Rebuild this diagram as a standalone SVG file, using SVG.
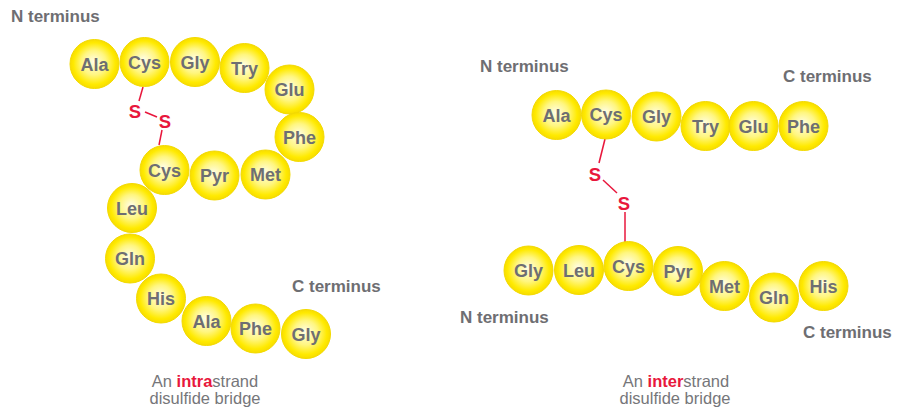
<svg xmlns="http://www.w3.org/2000/svg" width="899" height="410" viewBox="0 0 899 410">
<defs>
<radialGradient id="yb" cx="50%" cy="50%" r="50%" fx="48%" fy="45%">
<stop offset="0" stop-color="#fffde8"/>
<stop offset="0.5" stop-color="#fff680"/>
<stop offset="0.85" stop-color="#ffea00"/>
<stop offset="1" stop-color="#f7dc00"/>
</radialGradient>
<style>
.aa circle{fill:url(#yb);stroke:#f3da00;stroke-width:1}
.aa text{font-family:"Liberation Sans",Arial,sans-serif;font-weight:bold;font-size:18px;fill:#6e6e72;text-anchor:middle}
.term{font-family:"Liberation Sans",Arial,sans-serif;font-weight:bold;font-size:17px;fill:#6e6e72}
.s text{font-family:"Liberation Sans",Arial,sans-serif;font-weight:bold;font-size:18.5px;fill:#e8173c;text-anchor:middle}
.bond line{stroke:#e8173c;stroke-width:1.5}
.cap{font-family:"Liberation Sans",Arial,sans-serif;font-size:16.5px;fill:#76767a;text-anchor:middle}
.cap .hl{fill:#e8173c;font-weight:bold}
</style>
</defs>
<rect width="899" height="410" fill="#ffffff"/>
<g id="connectors" class="bond">
<line x1="143" y1="87" x2="139" y2="101"/>
<line x1="145" y1="112" x2="157" y2="117"/>
<line x1="162" y1="130" x2="159" y2="145"/>
<line x1="605" y1="139" x2="599" y2="163"/>
<line x1="603" y1="180" x2="617" y2="193"/>
<line x1="625" y1="212" x2="625" y2="242"/>
</g>
<g id="left-strand">
<g id="L-Ala1" class="aa"><circle cx="94.5" cy="64" r="24.5"/><text x="94.5" y="70.5">Ala</text></g>
<g id="L-Cys1" class="aa"><circle cx="144.5" cy="62" r="24.5"/><text x="144.5" y="68.5">Cys</text></g>
<g id="L-Gly1" class="aa"><circle cx="195" cy="62" r="24.5"/><text x="195" y="68.5">Gly</text></g>
<g id="L-Try" class="aa"><circle cx="244.5" cy="68" r="24.5"/><text x="244.5" y="74.5">Try</text></g>
<g id="L-Glu" class="aa"><circle cx="289.5" cy="89.5" r="24.5"/><text x="289.5" y="96">Glu</text></g>
<g id="L-Phe1" class="aa"><circle cx="299.5" cy="137" r="24.5"/><text x="299.5" y="143.5">Phe</text></g>
<g id="L-Met" class="aa"><circle cx="265.5" cy="174.5" r="24.5"/><text x="265.5" y="181">Met</text></g>
<g id="L-Pyr" class="aa"><circle cx="214.5" cy="175.5" r="24.5"/><text x="214.5" y="182">Pyr</text></g>
<g id="L-Cys2" class="aa"><circle cx="164.5" cy="170" r="24.5"/><text x="164.5" y="176.5">Cys</text></g>
<g id="L-Leu" class="aa"><circle cx="132" cy="208" r="24.5"/><text x="132" y="214.5">Leu</text></g>
<g id="L-Gln" class="aa"><circle cx="130" cy="258.5" r="24.5"/><text x="130" y="265">Gln</text></g>
<g id="L-His" class="aa"><circle cx="161" cy="298.5" r="24.5"/><text x="161" y="305">His</text></g>
<g id="L-Ala2" class="aa"><circle cx="206.5" cy="321" r="24.5"/><text x="206.5" y="327.5">Ala</text></g>
<g id="L-Phe2" class="aa"><circle cx="255.5" cy="328.5" r="24.5"/><text x="255.5" y="335">Phe</text></g>
<g id="L-Gly2" class="aa"><circle cx="306" cy="334" r="24.5"/><text x="306" y="340.5">Gly</text></g>
</g>
<g id="left-S1" class="s"><text x="135" y="117.5">S</text></g>
<g id="left-S2" class="s"><text x="165" y="127.5">S</text></g>
<text id="left-N" class="term" x="11" y="22">N terminus</text>
<text id="left-C" class="term" x="292" y="292">C terminus</text>
<g id="right-top-strand">
<g id="R-Ala" class="aa"><circle cx="556.5" cy="115" r="24.5"/><text x="556.5" y="121.5">Ala</text></g>
<g id="R-Cys1" class="aa"><circle cx="606" cy="114.5" r="24.5"/><text x="606" y="121">Cys</text></g>
<g id="R-Gly1" class="aa"><circle cx="656.5" cy="116.5" r="24.5"/><text x="656.5" y="123">Gly</text></g>
<g id="R-Try" class="aa"><circle cx="705.5" cy="126" r="24.5"/><text x="705.5" y="132.5">Try</text></g>
<g id="R-Glu" class="aa"><circle cx="753.5" cy="126" r="24.5"/><text x="753.5" y="132.5">Glu</text></g>
<g id="R-Phe" class="aa"><circle cx="803.5" cy="126" r="24.5"/><text x="803.5" y="132.5">Phe</text></g>
</g>
<g id="right-S1" class="s"><text x="595" y="180.5">S</text></g>
<g id="right-S2" class="s"><text x="624" y="209.5">S</text></g>
<g id="right-bottom-strand">
<g id="R-Gly2" class="aa"><circle cx="528.5" cy="270.5" r="24.5"/><text x="528.5" y="277">Gly</text></g>
<g id="R-Leu" class="aa"><circle cx="579" cy="270" r="24.5"/><text x="579" y="276.5">Leu</text></g>
<g id="R-Cys2" class="aa"><circle cx="628.5" cy="266" r="24.5"/><text x="628.5" y="272.5">Cys</text></g>
<g id="R-Pyr" class="aa"><circle cx="678" cy="271" r="24.5"/><text x="678" y="277.5">Pyr</text></g>
<g id="R-Met" class="aa"><circle cx="724.5" cy="286" r="24.5"/><text x="724.5" y="292.5">Met</text></g>
<g id="R-Gln" class="aa"><circle cx="774" cy="297.5" r="24.5"/><text x="774" y="304">Gln</text></g>
<g id="R-His" class="aa"><circle cx="823.5" cy="286" r="24.5"/><text x="823.5" y="292.5">His</text></g>
</g>
<text id="right-N-top" class="term" x="480" y="72">N terminus</text>
<text id="right-C-top" class="term" x="783" y="82">C terminus</text>
<text id="right-N-bottom" class="term" x="460" y="323">N terminus</text>
<text id="right-C-bottom" class="term" x="803" y="338">C terminus</text>
<g id="left-caption">
<text class="cap" x="205" y="387">An <tspan class="hl">intra</tspan>strand</text>
<text class="cap" x="205" y="404">disulfide bridge</text>
</g>
<g id="right-caption">
<text class="cap" x="676" y="387">An <tspan class="hl">inter</tspan>strand</text>
<text class="cap" x="675" y="404">disulfide bridge</text>
</g>
</svg>
